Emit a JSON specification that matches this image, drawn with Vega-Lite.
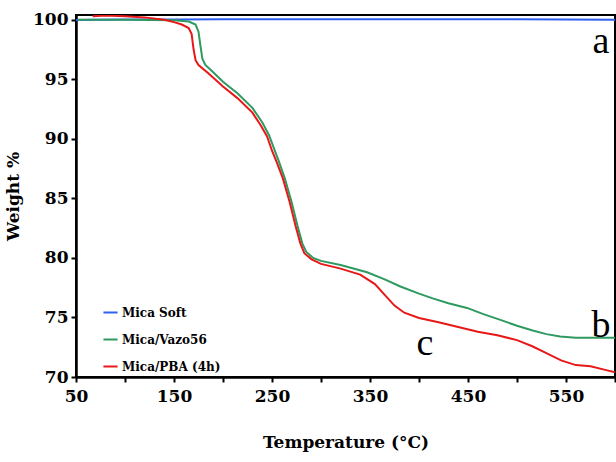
{
  "$schema": "https://vega.github.io/schema/vega-lite/v6.json",
  "width": 539,
  "height": 362,
  "autosize": {"type": "none"},
  "padding": {"left": 76, "top": 15, "right": 1, "bottom": 85},
  "background": "white",
  "config": {
    "view": {"stroke": "black", "strokeWidth": 2},
    "axis": {
      "grid": false,
      "domainColor": "black",
      "domainWidth": 2.5,
      "tickColor": "black",
      "tickWidth": 2,
      "tickSize": 5,
      "labelColor": "black",
      "titleColor": "black",
      "labelFont": "DejaVu Serif",
      "labelFontWeight": "bold",
      "labelFontSize": 17,
      "titleFont": "DejaVu Serif",
      "titleFontWeight": "bold"
    }
  },
  "datasets": {
    "curves": [
      {"series": "Mica Soft", "t": 50, "w": 99.98},
      {"series": "Mica Soft", "t": 70, "w": 100.0},
      {"series": "Mica Soft", "t": 100, "w": 100.02},
      {"series": "Mica Soft", "t": 150, "w": 100.03},
      {"series": "Mica Soft", "t": 200, "w": 100.05},
      {"series": "Mica Soft", "t": 250, "w": 100.05},
      {"series": "Mica Soft", "t": 300, "w": 100.04},
      {"series": "Mica Soft", "t": 350, "w": 100.05},
      {"series": "Mica Soft", "t": 400, "w": 100.04},
      {"series": "Mica Soft", "t": 450, "w": 100.05},
      {"series": "Mica Soft", "t": 500, "w": 100.04},
      {"series": "Mica Soft", "t": 550, "w": 100.03},
      {"series": "Mica Soft", "t": 600, "w": 100.0},

      {"series": "Mica/Vazo56", "t": 52, "w": 100.0},
      {"series": "Mica/Vazo56", "t": 100, "w": 100.0},
      {"series": "Mica/Vazo56", "t": 150, "w": 99.95},
      {"series": "Mica/Vazo56", "t": 165, "w": 99.85},
      {"series": "Mica/Vazo56", "t": 172, "w": 99.6},
      {"series": "Mica/Vazo56", "t": 175, "w": 99.0},
      {"series": "Mica/Vazo56", "t": 177, "w": 97.8},
      {"series": "Mica/Vazo56", "t": 179, "w": 96.7},
      {"series": "Mica/Vazo56", "t": 182, "w": 96.2},
      {"series": "Mica/Vazo56", "t": 190, "w": 95.6},
      {"series": "Mica/Vazo56", "t": 200, "w": 94.8},
      {"series": "Mica/Vazo56", "t": 215, "w": 93.8},
      {"series": "Mica/Vazo56", "t": 230, "w": 92.6},
      {"series": "Mica/Vazo56", "t": 240, "w": 91.4},
      {"series": "Mica/Vazo56", "t": 247, "w": 90.3},
      {"series": "Mica/Vazo56", "t": 252, "w": 89.2},
      {"series": "Mica/Vazo56", "t": 257, "w": 88.1},
      {"series": "Mica/Vazo56", "t": 263, "w": 86.7},
      {"series": "Mica/Vazo56", "t": 270, "w": 84.7},
      {"series": "Mica/Vazo56", "t": 276, "w": 82.7},
      {"series": "Mica/Vazo56", "t": 281, "w": 81.2},
      {"series": "Mica/Vazo56", "t": 285, "w": 80.5},
      {"series": "Mica/Vazo56", "t": 292, "w": 80.0},
      {"series": "Mica/Vazo56", "t": 300, "w": 79.75},
      {"series": "Mica/Vazo56", "t": 320, "w": 79.4},
      {"series": "Mica/Vazo56", "t": 347, "w": 78.8},
      {"series": "Mica/Vazo56", "t": 365, "w": 78.2},
      {"series": "Mica/Vazo56", "t": 381, "w": 77.6},
      {"series": "Mica/Vazo56", "t": 400, "w": 77.0},
      {"series": "Mica/Vazo56", "t": 414, "w": 76.6},
      {"series": "Mica/Vazo56", "t": 430, "w": 76.2},
      {"series": "Mica/Vazo56", "t": 449, "w": 75.8},
      {"series": "Mica/Vazo56", "t": 465, "w": 75.3},
      {"series": "Mica/Vazo56", "t": 483, "w": 74.8},
      {"series": "Mica/Vazo56", "t": 500, "w": 74.3},
      {"series": "Mica/Vazo56", "t": 516, "w": 73.9},
      {"series": "Mica/Vazo56", "t": 530, "w": 73.6},
      {"series": "Mica/Vazo56", "t": 544, "w": 73.4},
      {"series": "Mica/Vazo56", "t": 560, "w": 73.3},
      {"series": "Mica/Vazo56", "t": 580, "w": 73.3},
      {"series": "Mica/Vazo56", "t": 600, "w": 73.3},

      {"series": "Mica/PBA (4h)", "t": 67, "w": 100.3},
      {"series": "Mica/PBA (4h)", "t": 80, "w": 100.35},
      {"series": "Mica/PBA (4h)", "t": 100, "w": 100.3},
      {"series": "Mica/PBA (4h)", "t": 120, "w": 100.2},
      {"series": "Mica/PBA (4h)", "t": 140, "w": 100.0},
      {"series": "Mica/PBA (4h)", "t": 150, "w": 99.8},
      {"series": "Mica/PBA (4h)", "t": 158, "w": 99.6},
      {"series": "Mica/PBA (4h)", "t": 165, "w": 99.3},
      {"series": "Mica/PBA (4h)", "t": 168, "w": 98.8},
      {"series": "Mica/PBA (4h)", "t": 170, "w": 97.5},
      {"series": "Mica/PBA (4h)", "t": 172, "w": 96.6},
      {"series": "Mica/PBA (4h)", "t": 175, "w": 96.2},
      {"series": "Mica/PBA (4h)", "t": 185, "w": 95.5},
      {"series": "Mica/PBA (4h)", "t": 200, "w": 94.4},
      {"series": "Mica/PBA (4h)", "t": 215, "w": 93.4},
      {"series": "Mica/PBA (4h)", "t": 230, "w": 92.2},
      {"series": "Mica/PBA (4h)", "t": 238, "w": 91.2},
      {"series": "Mica/PBA (4h)", "t": 245, "w": 90.2},
      {"series": "Mica/PBA (4h)", "t": 250, "w": 89.0},
      {"series": "Mica/PBA (4h)", "t": 255, "w": 88.0},
      {"series": "Mica/PBA (4h)", "t": 261, "w": 86.7},
      {"series": "Mica/PBA (4h)", "t": 268, "w": 84.7},
      {"series": "Mica/PBA (4h)", "t": 274, "w": 82.7},
      {"series": "Mica/PBA (4h)", "t": 279, "w": 81.2},
      {"series": "Mica/PBA (4h)", "t": 283, "w": 80.4},
      {"series": "Mica/PBA (4h)", "t": 290, "w": 79.9},
      {"series": "Mica/PBA (4h)", "t": 300, "w": 79.5},
      {"series": "Mica/PBA (4h)", "t": 320, "w": 79.1},
      {"series": "Mica/PBA (4h)", "t": 340, "w": 78.6},
      {"series": "Mica/PBA (4h)", "t": 355, "w": 77.8},
      {"series": "Mica/PBA (4h)", "t": 365, "w": 76.9},
      {"series": "Mica/PBA (4h)", "t": 375, "w": 76.0},
      {"series": "Mica/PBA (4h)", "t": 385, "w": 75.4},
      {"series": "Mica/PBA (4h)", "t": 400, "w": 74.95},
      {"series": "Mica/PBA (4h)", "t": 420, "w": 74.6},
      {"series": "Mica/PBA (4h)", "t": 440, "w": 74.2},
      {"series": "Mica/PBA (4h)", "t": 460, "w": 73.8},
      {"series": "Mica/PBA (4h)", "t": 480, "w": 73.5},
      {"series": "Mica/PBA (4h)", "t": 500, "w": 73.1},
      {"series": "Mica/PBA (4h)", "t": 515, "w": 72.6},
      {"series": "Mica/PBA (4h)", "t": 530, "w": 72.0},
      {"series": "Mica/PBA (4h)", "t": 545, "w": 71.4},
      {"series": "Mica/PBA (4h)", "t": 560, "w": 71.0},
      {"series": "Mica/PBA (4h)", "t": 575, "w": 70.9},
      {"series": "Mica/PBA (4h)", "t": 590, "w": 70.6},
      {"series": "Mica/PBA (4h)", "t": 600, "w": 70.4}
    ],
    "labels": [
      {"label": "a", "t": 585.7, "w": 97.2},
      {"label": "b", "t": 585.7, "w": 73.36},
      {"label": "c", "t": 406, "w": 71.85}
    ]
  },
  "layer": [
    {
      "data": {"name": "curves"},
      "mark": {"type": "line", "strokeWidth": 2, "clip": true},
      "encoding": {
        "x": {
          "field": "t", "type": "quantitative",
          "scale": {"domain": [50, 600], "nice": false, "zero": false},
          "axis": {
            "title": "Temperature (°C)",
            "titleFontSize": 17,
            "titlePadding": 30,
            "values": [50, 100, 150, 200, 250, 300, 350, 400, 450, 500, 550, 600],
            "labelExpr": "datum.value % 100 == 50 ? datum.label : ''",
            "labelPadding": 6,
            "labelFlush": false
          }
        },
        "y": {
          "field": "w", "type": "quantitative",
          "scale": {"domain": [70, 100.4], "nice": false, "zero": false},
          "axis": {
            "title": "Weight %",
            "titleFontSize": 17,
            "titlePadding": 10,
            "values": [70, 75, 80, 85, 90, 95, 100],
            "labelPadding": 3
          }
        },
        "color": {
          "field": "series", "type": "nominal",
          "scale": {
            "domain": ["Mica Soft", "Mica/Vazo56", "Mica/PBA (4h)"],
            "range": ["#3060f0", "#2f9a60", "#e81818"]
          },
          "legend": {
            "title": null,
            "orient": "none",
            "legendX": 26,
            "legendY": 289,
            "symbolType": "stroke",
            "symbolStrokeWidth": 2,
            "symbolSize": 200,
            "labelFont": "DejaVu Serif",
            "labelFontWeight": "bold",
            "labelFontSize": 12,
            "labelColor": "black",
            "labelOffset": 3,
            "rowPadding": 12,
            "padding": 0
          }
        },
        "order": {"field": "t", "type": "quantitative"}
      }
    },
    {
      "data": {"name": "labels"},
      "mark": {"type": "text", "font": "Liberation Serif", "fontSize": 38, "align": "center", "baseline": "alphabetic", "color": "black"},
      "encoding": {
        "x": {"field": "t", "type": "quantitative"},
        "y": {"field": "w", "type": "quantitative"},
        "text": {"field": "label"}
      }
    }
  ]
}
